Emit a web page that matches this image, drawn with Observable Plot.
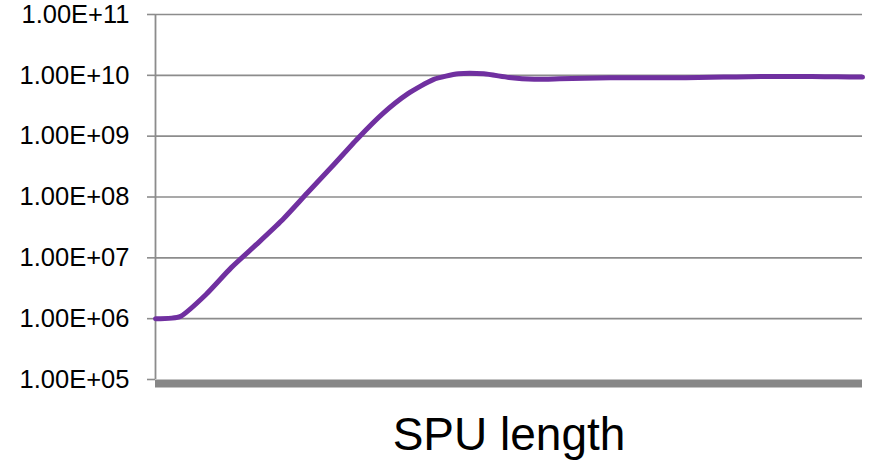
<!DOCTYPE html>
<html>
<head>
<meta charset="utf-8">
<script src="https://cdn.jsdelivr.net/npm/d3@7"></script>
<script src="https://cdn.jsdelivr.net/npm/@observablehq/plot@0.6"></script>
<style>
  html, body { margin: 0; padding: 0; background: #fff; }
  #chart { width: 869px; height: 461px; }
</style>
</head>
<body>
<div id="chart"></div>
<script>
// Categories (SPU length steps, unlabeled on the chart)
const steps = [0,1,2,3,4,5,6,7,8,9,10,11,12,13,14,15,16,17,18,19,20,21,22,23,24,25,26,27,28];
// Series values
const values = [
  1.0e6, 1.1e6, 2.5e6, 6.9e6, 1.66e7, 4.1e7, 1.15e8, 3.2e8, 9.1e8, 2.35e9,
  5.0e9, 8.5e9, 1.06e10, 1.06e10, 9.2e9, 8.6e9, 8.75e9, 8.95e9, 9.1e9, 9.1e9,
  9.1e9, 9.1e9, 9.3e9, 9.4e9, 9.55e9, 9.55e9, 9.55e9, 9.45e9, 9.35e9
];
// Y tick values and labels
const yTicks = [1e5, 1e6, 1e7, 1e8, 1e9, 1e10, 1e11];
const yTickLabels = ["1.00E+05", "1.00E+06", "1.00E+07", "1.00E+08", "1.00E+09", "1.00E+10", "1.00E+11"];
const xTitle = "SPU length";

const data = steps.map((s, i) => ({step: s, value: values[i]}));
const labelOf = new Map(yTicks.map((t, i) => [t, yTickLabels[i]]));

const chart = Plot.plot({
  width: 869,
  height: 461,
  marginLeft: 155,
  marginRight: 7,
  marginTop: 14,
  marginBottom: 82,
  style: {fontFamily: "'Liberation Sans', Arial, sans-serif", background: "#fff", overflow: "visible"},
  x: {domain: [steps[0], steps[steps.length - 1]], axis: null},
  y: {type: "log", domain: [1e5, 1e11], axis: null},
  marks: [
    Plot.ruleY(yTicks.slice(1), {stroke: "#8c8c8c", strokeWidth: 1.6}),
    Plot.axisY({
      ticks: yTicks,
      tickFormat: d => labelOf.get(d),
      tickSize: 8,
      tickPadding: 18,
      stroke: "#8c8c8c",
      strokeWidth: 1.6,
      fill: "#000",
      fontSize: 25.5,
      label: null
    }),
    Plot.ruleX([steps[0]], {stroke: "#8c8c8c", strokeWidth: 1.8}),
    Plot.ruleY([1e5], {stroke: "#878787", strokeWidth: 8, dy: 4}),
    Plot.line(data, {x: "step", y: "value", stroke: "#7030A0", strokeWidth: 5, curve: "cardinal", tension: 0.4}),
    Plot.text([xTitle], {frameAnchor: "bottom", dy: 56, lineAnchor: "middle", fontSize: 46, fill: "#000"})
  ]
});
document.getElementById("chart").appendChild(chart);
</script>
</body>
</html>
